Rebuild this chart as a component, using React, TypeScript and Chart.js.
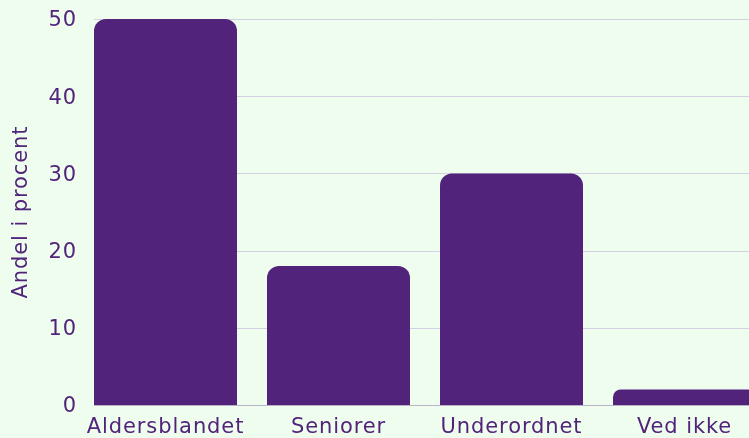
import React, { useEffect, useRef } from "react";
import { Chart, registerables } from "chart.js";

Chart.register(...registerables);

const categories = ["Aldersblandet", "Seniorer", "Underordnet", "Ved ikke"];
const values = [50, 18, 30, 2];
const yTitle = "Andel i procent";

const BG = "#eefdee";
const PURPLE = "#52237a";
const FONT = "'DejaVu Sans', sans-serif";
const FONT_SIZE = 21;
const SPACING = "0.9px";

const spacingPlugin = {
  id: "letterSpacing",
  beforeUpdate(chart: any) {
    chart.ctx.letterSpacing = SPACING;
  },
  beforeDraw(chart: any) {
    chart.ctx.letterSpacing = SPACING;
  },
};

const gridPlugin = {
  id: "customGrid",
  beforeDatasetsDraw(chart: any) {
    const meta = chart.getDatasetMeta(0);
    const el = meta.data[0];
    if (!el) return;
    const left = el.x - el.width / 2;
    const right = chart.chartArea.right;
    const ys = chart.scales.y;
    const ctx = chart.ctx;
    ctx.save();
    ys.ticks.forEach((t: any) => {
      const py = Math.round(ys.getPixelForValue(t.value)) + 0.5;
      ctx.beginPath();
      ctx.strokeStyle = t.value === 0 ? "#b9b2c9" : "#d2d0e2";
      ctx.lineWidth = 1;
      ctx.moveTo(left, py);
      ctx.lineTo(right, py);
      ctx.stroke();
    });
    ctx.restore();
  },
};

export default function App() {
  const ref = useRef<HTMLCanvasElement>(null);
  useEffect(() => {
    if (!ref.current) return;
    const chart = new Chart(ref.current, {
      type: "bar",
      data: {
        labels: categories,
        datasets: [
          {
            data: values,
            backgroundColor: PURPLE,
            borderRadius: { topLeft: 12, topRight: 12, bottomLeft: 0, bottomRight: 0 },
            borderSkipped: false,
            categoryPercentage: 1,
            barPercentage: 143 / 173,
          },
        ],
      },
      options: {
        animation: false,
        responsive: false,
        maintainAspectRatio: false,
        layout: { padding: { top: 19, left: 0, right: 0, bottom: 0 } },
        plugins: { legend: { display: false }, tooltip: { enabled: false } },
        scales: {
          x: {
            grid: { display: false, drawTicks: false },
            border: { display: false },
            ticks: {
              color: PURPLE,
              font: { family: FONT, size: FONT_SIZE },
              padding: 10,
              maxRotation: 0,
              autoSkip: false,
            },
            afterFit: (s: any) => {
              s.height = 33;
            },
          },
          y: {
            min: 0,
            max: 50,
            grid: { display: false, drawTicks: false },
            border: { display: false },
            ticks: {
              stepSize: 10,
              color: PURPLE,
              font: { family: FONT, size: FONT_SIZE },
              padding: 2,
              labelOffset: 2,
            },
            title: {
              display: true,
              text: yTitle,
              color: PURPLE,
              font: { family: FONT, size: FONT_SIZE },
              padding: { top: 9, bottom: 0 },
            },
            afterFit: (s: any) => {
              s.width = 79;
            },
          },
        },
      },
      plugins: [spacingPlugin, gridPlugin],
    });
    return () => chart.destroy();
  }, []);
  return (
    <div
      style={{
        position: "fixed",
        left: 0,
        top: 0,
        width: 749,
        height: 438,
        overflow: "hidden",
        background: BG,
      }}
    >
      <canvas ref={ref} width={771} height={438} style={{ display: "block" }} />
    </div>
  );
}
